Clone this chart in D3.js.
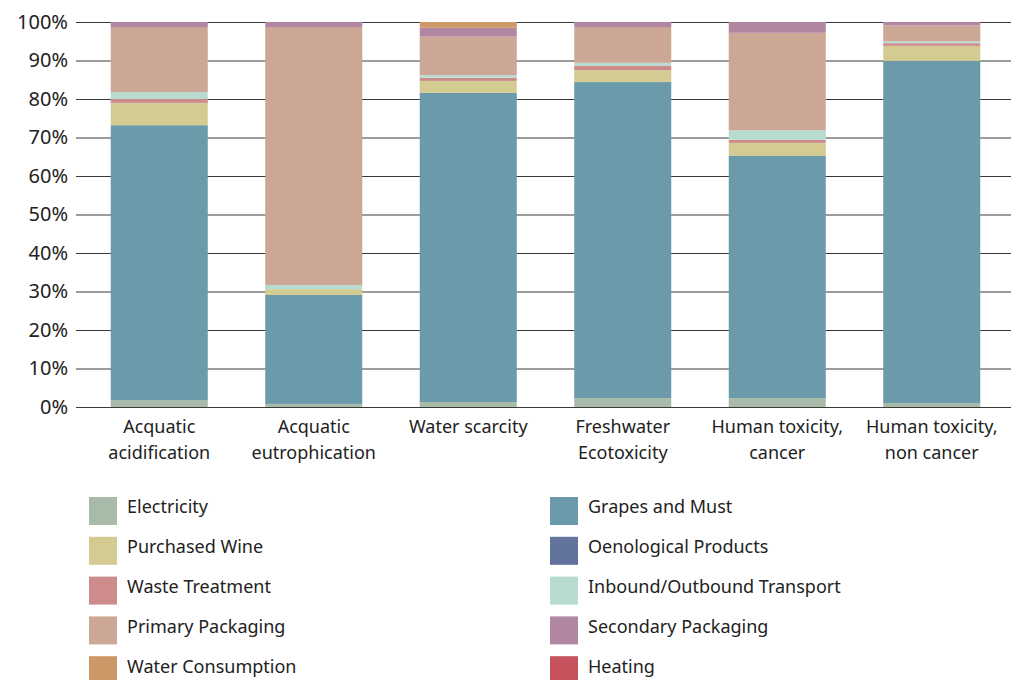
<!DOCTYPE html>
<html>
<head>
<meta charset="utf-8">
<script src="https://cdn.jsdelivr.net/npm/d3@7"></script>
<style>
  body { margin: 0; background: #fff; }
  text { font-family: "Noto Sans", sans-serif; fill: #222; }
</style>
</head>
<body>
<svg id="drawing_region"></svg>
<script>
// categories (x axis), two lines each
const categories = [
    ['Acquatic', 'acidification'],
    ['Acquatic', 'eutrophication'],
    ['Water scarcity'],
    ['Freshwater', 'Ecotoxicity'],
    ['Human toxicity,', 'cancer'],
    ['Human toxicity,', 'non cancer']
];

// series, bottom to top of each bar
const seriesNames = ['Electricity', 'Grapes and Must', 'Purchased Wine', 'Oenological Products',
    'Waste Treatment', 'Inbound/Outbound Transport', 'Primary Packaging',
    'Secondary Packaging', 'Water Consumption', 'Heating'];
const seriesColors = ['#a8bba8', '#6b9bab', '#d4cb93', '#62739e', '#cd8b8c',
    '#b8dbd0', '#cca795', '#b086a2', '#cc9868', '#c5525c'];

// share of each series in %, one value per category
const electricity   = [1.8, 0.8, 1.3, 2.3, 2.3, 1.0];
const grapesMust    = [71.4, 28.3, 80.3, 82.1, 62.9, 88.9];
const purchasedWine = [5.8, 1.5, 3.1, 3.1, 3.4, 3.9];
const oenological   = [0, 0, 0, 0, 0, 0];
const wasteTreat    = [1.0, 0, 0.8, 1.1, 0.8, 0.7];
const transport     = [1.8, 1.1, 0.7, 0.8, 2.5, 0.5];
const primaryPack   = [16.9, 67.0, 10.0, 9.3, 25.3, 4.1];
const secondaryPack = [1.3, 1.3, 2.3, 1.3, 2.8, 0.9];
const waterCons     = [0, 0, 1.5, 0, 0, 0];
const heating       = [0, 0, 0, 0, 0, 0];

const yTicks = [0, 10, 20, 30, 40, 50, 60, 70, 80, 90, 100];

const seriesValues = [electricity, grapesMust, purchasedWine, oenological, wasteTreat,
    transport, primaryPack, secondaryPack, waterCons, heating];

const data = categories.map((c, i) => {
    const row = { key: i };
    seriesNames.forEach((s, j) => { row[s] = seriesValues[j][i]; });
    return row;
});

const config = {
    parent: '#drawing_region',
    width: 1011,
    height: 680,
    plot: { left: 82, right: 1009, top: 22, bottom: 407 },
    gridLeft: 76
};

const svg = d3.select(config.parent)
    .attr('width', config.width)
    .attr('height', config.height);

const xscale = d3.scaleBand()
    .domain(categories.map((c, i) => i))
    .range([config.plot.left, config.plot.right])
    .paddingInner(0.372)
    .paddingOuter(0.186);

const yscale = d3.scaleLinear()
    .domain([0, 100])
    .range([config.plot.bottom, config.plot.top]);

// grid lines + y labels
const yaxis = d3.axisLeft(yscale)
    .tickValues(yTicks)
    .tickSize(-(config.width - config.gridLeft))
    .tickPadding(8)
    .tickFormat(d => d + '%');

const yaxis_group = svg.append('g')
    .attr('transform', `translate(${config.gridLeft}, 0)`)
    .call(yaxis);
yaxis_group.select('.domain').remove();
yaxis_group.selectAll('.tick line')
    .attr('stroke', '#3a3a3a')
    .attr('stroke-width', 1.2);
yaxis_group.selectAll('.tick text')
    .style('font-family', '"Noto Sans", sans-serif')
    .style('font-size', '20px')
    .attr('fill', '#222');

// stacked bars
const stack = d3.stack().keys(seriesNames);
const layers = stack(data);

svg.append('g')
    .selectAll('g')
    .data(layers)
    .join('g')
    .attr('fill', (d, i) => seriesColors[i])
    .selectAll('rect')
    .data(d => d)
    .join('rect')
    .attr('x', d => xscale(d.data.key))
    .attr('width', xscale.bandwidth())
    .attr('y', d => yscale(d[1]))
    .attr('height', d => yscale(d[0]) - yscale(d[1]));

// category labels
const xlabels = svg.append('g')
    .selectAll('text')
    .data(categories)
    .join('text')
    .attr('text-anchor', 'middle')
    .attr('x', (d, i) => xscale(i) + xscale.bandwidth() / 2)
    .attr('y', 433)
    .style('font-size', '18px');
xlabels.selectAll('tspan')
    .data(d => d)
    .join('tspan')
    .attr('x', function() { return d3.select(this.parentNode).attr('x'); })
    .attr('dy', (d, i) => i === 0 ? 0 : 26)
    .text(d => d);

// legend: two columns, row-major
const legend = svg.append('g')
    .selectAll('g')
    .data(seriesNames)
    .join('g')
    .attr('transform', (d, i) => `translate(${i % 2 === 0 ? 89 : 550}, ${497 + Math.floor(i / 2) * 39.8})`);

legend.append('rect')
    .attr('width', 28)
    .attr('height', 28)
    .attr('fill', (d, i) => seriesColors[i]);

legend.append('text')
    .attr('x', 38)
    .attr('y', 10)
    .attr('dy', '0.35em')
    .style('font-size', '18px')
    .text(d => d);
</script>
</body>
</html>
